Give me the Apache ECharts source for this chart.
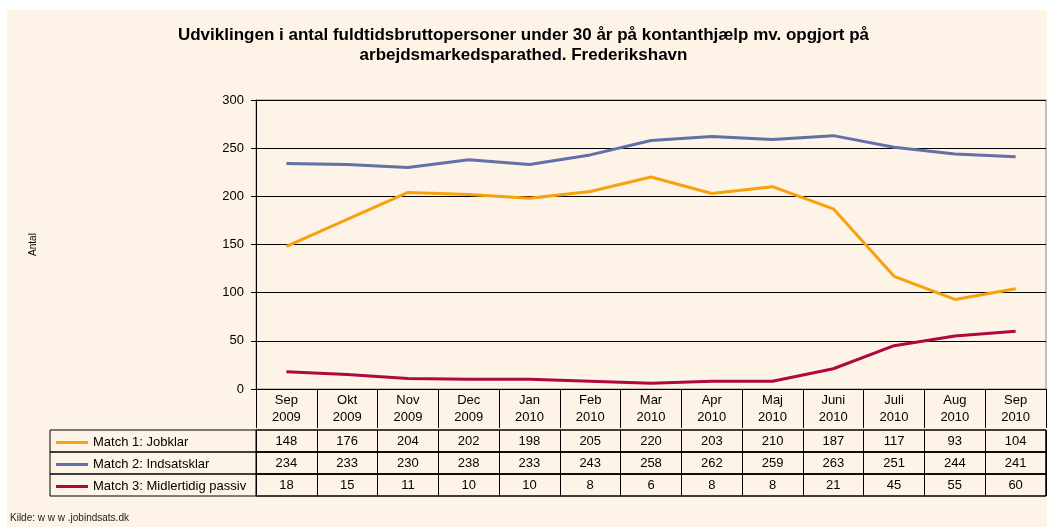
<!DOCTYPE html>
<html>
<head>
<meta charset="utf-8">
<script src="https://cdn.jsdelivr.net/npm/echarts@6/dist/echarts.min.js"></script>
<style>
  html, body { margin: 0; padding: 0; background: #fff; }
  #chart { width: 1047px; height: 527px; }
</style>
</head>
<body>
<div id="chart"></div>
<script>
// data
const months = ['Sep\n2009', 'Okt\n2009', 'Nov\n2009', 'Dec\n2009', 'Jan\n2010', 'Feb\n2010', 'Mar\n2010',
  'Apr\n2010', 'Maj\n2010', 'Juni\n2010', 'Juli\n2010', 'Aug\n2010', 'Sep\n2010']
const seriesNames = ['Match 1: Jobklar', 'Match 2: Indsatsklar', 'Match 3: Midlertidig passiv']
const jobklar = [148, 176, 204, 202, 198, 205, 220, 203, 210, 187, 117, 93, 104]
const indsatsklar = [234, 233, 230, 238, 233, 243, 258, 262, 259, 263, 251, 244, 241]
const passiv = [18, 15, 11, 10, 10, 8, 6, 8, 8, 21, 45, 55, 60]
const yTicks = { min: 0, max: 300, interval: 50 }

const colors = ['#f7a10c', '#6170a8', '#b0083e']
const font = 'Arial, "Liberation Sans", sans-serif'
const rows = [jobklar, indsatsklar, passiv]

const plotLeft = 256
const plotWidth = 790
const rowTop = 430
const rowH = 22

const grids = [{
  left: plotLeft, width: plotWidth, top: 100, height: 289,
  show: true, borderColor: '#8a8a8a', borderWidth: 1,
}]
const xAxes = [{
  type: 'category',
  gridIndex: 0,
  data: months,
  boundaryGap: true,
  axisLine: { lineStyle: { color: '#000', width: 1 } },
  axisTick: { show: true, length: 39, lineStyle: { color: '#000' } },
  axisLabel: { color: '#000', fontSize: 13, fontFamily: font, lineHeight: 17, margin: 3 },
}]
const yAxes = [{
  type: 'value',
  gridIndex: 0,
  min: yTicks.min, max: yTicks.max, interval: yTicks.interval,
  name: 'Antal',
  nameLocation: 'middle',
  nameGap: 218,
  nameTextStyle: { color: '#000', fontSize: 10, fontFamily: font },
  axisLine: { show: true, lineStyle: { color: '#000' } },
  axisTick: { show: true, length: 5, lineStyle: { color: '#000' } },
  axisLabel: { color: '#000', fontSize: 13, fontFamily: font, margin: 12 },
  splitLine: { lineStyle: { color: '#000', width: 1 } },
}]

// table rows: a full-width box for each row plus a value grid over the month columns
rows.forEach((vals, i) => {
  grids.push({
    left: 50, width: plotLeft + plotWidth - 50, top: rowTop + i * rowH, height: rowH,
    show: true, borderColor: '#000', borderWidth: 1,
  })
  grids.push({
    left: plotLeft, width: plotWidth, top: rowTop + i * rowH, height: rowH,
    show: true, borderColor: '#000', borderWidth: 1,
  })
  const gi = grids.length - 1
  xAxes.push({
    type: 'category',
    gridIndex: gi,
    data: vals.map(String),
    boundaryGap: true,
    axisLine: { show: false },
    axisTick: { show: false },
    splitLine: { show: true, interval: 0, lineStyle: { color: '#000', width: 1 } },
    axisLabel: { color: '#000', fontSize: 13, fontFamily: font, margin: -11, verticalAlign: 'middle', interval: 0 },
  })
  yAxes.push({ type: 'value', gridIndex: gi, show: false })
})

const series = rows.map((vals, i) => ({
  name: seriesNames[i],
  type: 'line',
  xAxisIndex: 0,
  yAxisIndex: 0,
  data: vals,
  symbol: 'none',
  lineStyle: { color: colors[i], width: 3 },
  itemStyle: { color: colors[i] },
}))

const chart = echarts.init(document.getElementById('chart'))
chart.setOption({
  backgroundColor: '#fff',
  animation: false,
  title: {
    text: 'Udviklingen i antal fuldtidsbruttopersoner under 30 år på kontanthjælp mv. opgjort på\narbejdsmarkedsparathed. Frederikshavn',
    left: 'center',
    top: 20,
    textStyle: { color: '#000', fontSize: 17, fontWeight: 'bold', fontFamily: font, lineHeight: 20 },
  },
  graphic: [
    {
      type: 'rect', z: -10, silent: true,
      shape: { x: 7, y: 10, width: 1040, height: 517 },
      style: { fill: '#fdf3e6' },
    },
    {
      type: 'text', left: 10, top: 513,
      style: { text: 'Kilde: w w w .jobindsats.dk', fill: '#222', font: '10px ' + font },
    },
  ],
  legend: {
    orient: 'vertical',
    left: 51,
    top: 430,
    itemWidth: 32,
    itemHeight: 3,
    itemGap: 7,
    icon: 'rect',
    selectedMode: false,
    data: seriesNames,
    textStyle: { color: '#000', fontSize: 13, fontFamily: font, lineHeight: 15 },
  },
  grid: grids,
  xAxis: xAxes,
  yAxis: yAxes,
  series: series,
})
</script>
</body>
</html>
